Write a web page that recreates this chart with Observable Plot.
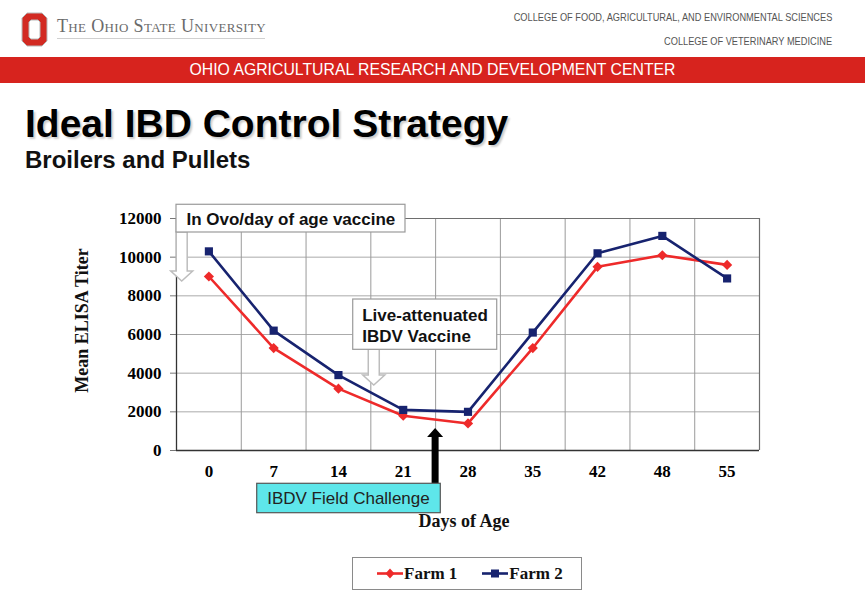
<!DOCTYPE html>
<html>
<head>
<meta charset="utf-8">
<script src="https://cdn.jsdelivr.net/npm/d3@7"></script>
<script src="https://cdn.jsdelivr.net/npm/@observablehq/plot@0.6"></script>
<style>
  html, body { margin: 0; padding: 0; background: #fff; }
  body { width: 865px; height: 599px; position: relative; overflow: hidden; font-family: "Liberation Sans", Arial, sans-serif; }
  .logo { position: absolute; left: 21px; top: 12px; }
  .osu { position: absolute; left: 57px; top: 17px; font-family: "Liberation Serif", "Times New Roman", serif; font-variant: small-caps; font-size: 18px; line-height: 1; color: #6a6a6a; letter-spacing: 0.35px; white-space: nowrap; }
  .osu-line { position: absolute; left: 57px; top: 38px; width: 208px; height: 1px; background: #d0d0d0; }
  .col { position: absolute; right: 33px; font-size: 11px; line-height: 12px; color: #555; transform: scaleX(0.84); transform-origin: right center; white-space: nowrap; }
  .col1 { top: 11px; }
  .col2 { top: 35px; }
  .band { position: absolute; left: 0; top: 57px; width: 865px; height: 26px; background: #d7231e; color: #fff; font-size: 15.8px; line-height: 26px; text-align: center; white-space: nowrap; }
  .title { position: absolute; left: 25px; top: 104px; font-weight: bold; font-size: 39px; line-height: 1; color: #000; white-space: nowrap; text-shadow: 2px 2px 2px rgba(0,0,0,0.2); }
  .sub { position: absolute; left: 25px; top: 148px; font-weight: bold; font-size: 24px; line-height: 1; color: #111; white-space: nowrap; }
  #chart { position: absolute; left: 0; top: 190px; }
  #chart svg { color: #777; }
  #chart g[aria-label^="x-axis"] text, #chart g[aria-label^="y-axis"] text { font-family: "Liberation Serif", "Times New Roman", serif; font-weight: bold; font-size: 17px; fill: #000; }
  .legend { position: absolute; left: 352px; top: 557px; width: 230px; height: 33px; border: 1px solid #8a8a8a; display: flex; align-items: center; padding-left: 24px; box-sizing: border-box; white-space: nowrap; background: #fff; }
  .legend .item { display: flex; align-items: center; flex-shrink: 0; }
  .legend .item + .item { margin-left: 25px; }
  .legend .item span { font-family: "Liberation Serif", "Times New Roman", serif; font-weight: bold; font-size: 17px; color: #111; white-space: nowrap; }
</style>
</head>
<body>
<svg class="logo" width="28" height="36" viewBox="0 0 28 36">
  <path d="M6,1 H21 L26,6 V29 L21,34 H6 L1,29 V6 Z M10,8 H17 L19,10 V25 L17,27 H10 L8,25 V10 Z" fill="#d22a22" fill-rule="evenodd" stroke="#b9b9b9" stroke-width="1"/>
</svg>
<div class="osu">The Ohio State University</div>
<div class="osu-line"></div>
<div class="col col1">COLLEGE OF FOOD, AGRICULTURAL, AND ENVIRONMENTAL SCIENCES</div>
<div class="col col2">COLLEGE OF VETERINARY MEDICINE</div>
<div class="band">OHIO AGRICULTURAL RESEARCH AND DEVELOPMENT CENTER</div>
<div class="title">Ideal IBD Control Strategy</div>
<div class="sub">Broilers and Pullets</div>
<div id="chart"></div>
<div class="legend" id="legend"></div>
<script>
// ---- data ----
const days = ["0", "7", "14", "21", "28", "35", "42", "48", "55"];
const farm1 = [9000, 5300, 3200, 1800, 1400, 5300, 9500, 10100, 9600];
const farm2 = [10300, 6200, 3900, 2100, 2000, 6100, 10200, 11100, 8900];
const yTicks = [0, 2000, 4000, 6000, 8000, 10000, 12000];
const seriesNames = ["Farm 1", "Farm 2"];
const seriesColors = ["#ee2a2a", "#17236f"];
const seriesSymbols = ["diamond2", "square"];
const yLabel = "Mean ELISA Titer";
const xLabel = "Days of Age";

// annotations (in data units: x = day index, y = titer)
const noteBoxes = [
  {x1: -0.5, x2: 3.035, y1: 11276, y2: 12710, fill: "#ffffff", stroke: "#9a9a9a"},
  {x1: 2.228, x2: 4.451, y1: 5208, y2: 7810, fill: "#ffffff", stroke: "#9a9a9a"},
  {x1: 0.746, x2: 3.58, y1: -3243, y2: -1722, fill: "#5ee6ea", stroke: "#555555"}
];
const noteTexts = [
  {x: -0.346, y: 12000, text: "In Ovo/day of age vaccine", weight: "bold"},
  {x: 2.367, y: 6481, text: "Live-attenuated\nIBDV Vaccine", weight: "bold"},
  {x: 0.900, y: -2498, text: "IBDV Field Challenge", weight: "normal"}
];
const hollowArrows = [
  {x: -0.412, from: 11276, to: 8741},
  {x: 2.553, from: 5208, to: 3362}
];
const challengeArrows = [
  {x: 3.5, from: -1722, to: 1138}
];

// ---- table ----
const rows = [];
days.forEach((d, i) => {
  rows.push({i, day: d, value: farm1[i], series: seriesNames[0]});
});
days.forEach((d, i) => {
  rows.push({i, day: d, value: farm2[i], series: seriesNames[1]});
});
const boundaries = d3.range(days.length + 1).map(k => k - 0.5);

function arrowPath(x, yb, yt, s, h, L) {
  const dir = Math.sign(yt - yb);
  const yh = yt - dir * L;
  return `M${x - s},${yb}L${x + s},${yb}L${x + s},${yh}L${x + h},${yh}L${x},${yt}L${x - h},${yh}L${x - s},${yh}Z`;
}

function arrowsMark(index, scales) {
  const g = d3.create("svg:g").attr("aria-label", "annotation arrows");
  for (const a of hollowArrows) {
    g.append("path")
      .attr("d", arrowPath(scales.x(a.x), scales.y(a.from), scales.y(a.to), 5.5, 11, 10))
      .attr("fill", "#ffffff")
      .attr("stroke", "#bdbdbd")
      .attr("stroke-width", 1.5);
  }
  for (const a of challengeArrows) {
    g.append("path")
      .attr("d", arrowPath(scales.x(a.x), scales.y(a.from), scales.y(a.to), 3.5, 8, 9))
      .attr("fill", "#000000");
  }
  return g.node();
}

const chart = Plot.plot({
  width: 865,
  height: 350,
  marginLeft: 176,
  marginRight: 106,
  marginTop: 28,
  marginBottom: 90,
  style: {background: "transparent", overflow: "visible"},
  x: {domain: [-0.5, days.length - 0.5], ticks: d3.range(days.length), tickFormat: i => days[i], tickSize: 0, tickPadding: 14, label: null},
  y: {domain: [0, 12000], ticks: yTicks, tickFormat: d => String(d), tickSize: 6, tickPadding: 9, label: null},
  color: {domain: seriesNames, range: seriesColors},
  symbol: {domain: seriesNames, range: seriesSymbols},
  marks: [
    Plot.ruleY(yTicks.slice(1, -1), {stroke: "#ababab", strokeWidth: 1}),
    Plot.ruleX(boundaries.slice(1, -1), {stroke: "#9a9a9a", strokeWidth: 1}),
    Plot.ruleY([yTicks[yTicks.length - 1]], {stroke: "#6e6e6e", strokeWidth: 1.2}),
    Plot.ruleX([boundaries[boundaries.length - 1]], {stroke: "#6e6e6e", strokeWidth: 1.2}),
    Plot.ruleX([boundaries[0]], {stroke: "#333", strokeWidth: 1.3}),
    Plot.ruleY([0], {stroke: "#333", strokeWidth: 1.5}),
    Plot.line(rows, {x: "i", y: "value", stroke: "series", z: "series", strokeWidth: 2.6}),
    Plot.dot(rows, {x: "i", y: "value", fill: "series", symbol: "series", r: 4.6, stroke: "none"}),
    arrowsMark,
    Plot.rect(noteBoxes, {x1: "x1", x2: "x2", y1: "y1", y2: "y2", fill: d => d.fill, stroke: d => d.stroke, strokeWidth: 1.2}),
    Plot.text(noteTexts.filter(d => d.weight === "bold"), {x: "x", y: "y", text: "text", textAnchor: "start", lineAnchor: "middle", lineHeight: 1.22, fontFamily: "Liberation Sans, Arial, sans-serif", fontWeight: "bold", fontSize: 17, fill: "#111"}),
    Plot.text(noteTexts.filter(d => d.weight !== "bold"), {x: "x", y: "y", text: "text", textAnchor: "start", lineAnchor: "middle", fontFamily: "Liberation Sans, Arial, sans-serif", fontSize: 17, fill: "#222"}),
    Plot.text([yLabel], {frameAnchor: "left", textAnchor: "middle", lineAnchor: "middle", rotate: -90, dx: -94, dy: -14, fontFamily: "Liberation Serif, Times New Roman, serif", fontWeight: "bold", fontSize: 18, fill: "#111"}),
    Plot.text([xLabel], {frameAnchor: "bottom", textAnchor: "middle", lineAnchor: "middle", dx: -4, dy: 71, fontFamily: "Liberation Serif, Times New Roman, serif", fontWeight: "bold", fontSize: 18, fill: "#111"})
  ]
});
document.getElementById("chart").appendChild(chart);

// ---- legend ----
const legend = document.getElementById("legend");
seriesNames.forEach((name, k) => {
  const item = document.createElement("div");
  item.className = "item";
  const sym = seriesSymbols[k] === "square"
    ? `<rect x="9" y="2.5" width="8" height="8" fill="${seriesColors[k]}"/>`
    : `<path d="M13,1.5L17.5,6.5L13,11.5L8.5,6.5Z" fill="${seriesColors[k]}"/>`;
  item.innerHTML = `<svg width="27" height="13"><line x1="0" y1="6.5" x2="26" y2="6.5" stroke="${seriesColors[k]}" stroke-width="2.6"/>${sym}</svg><span>${name}</span>`;
  legend.appendChild(item);
});
</script>
</body>
</html>
